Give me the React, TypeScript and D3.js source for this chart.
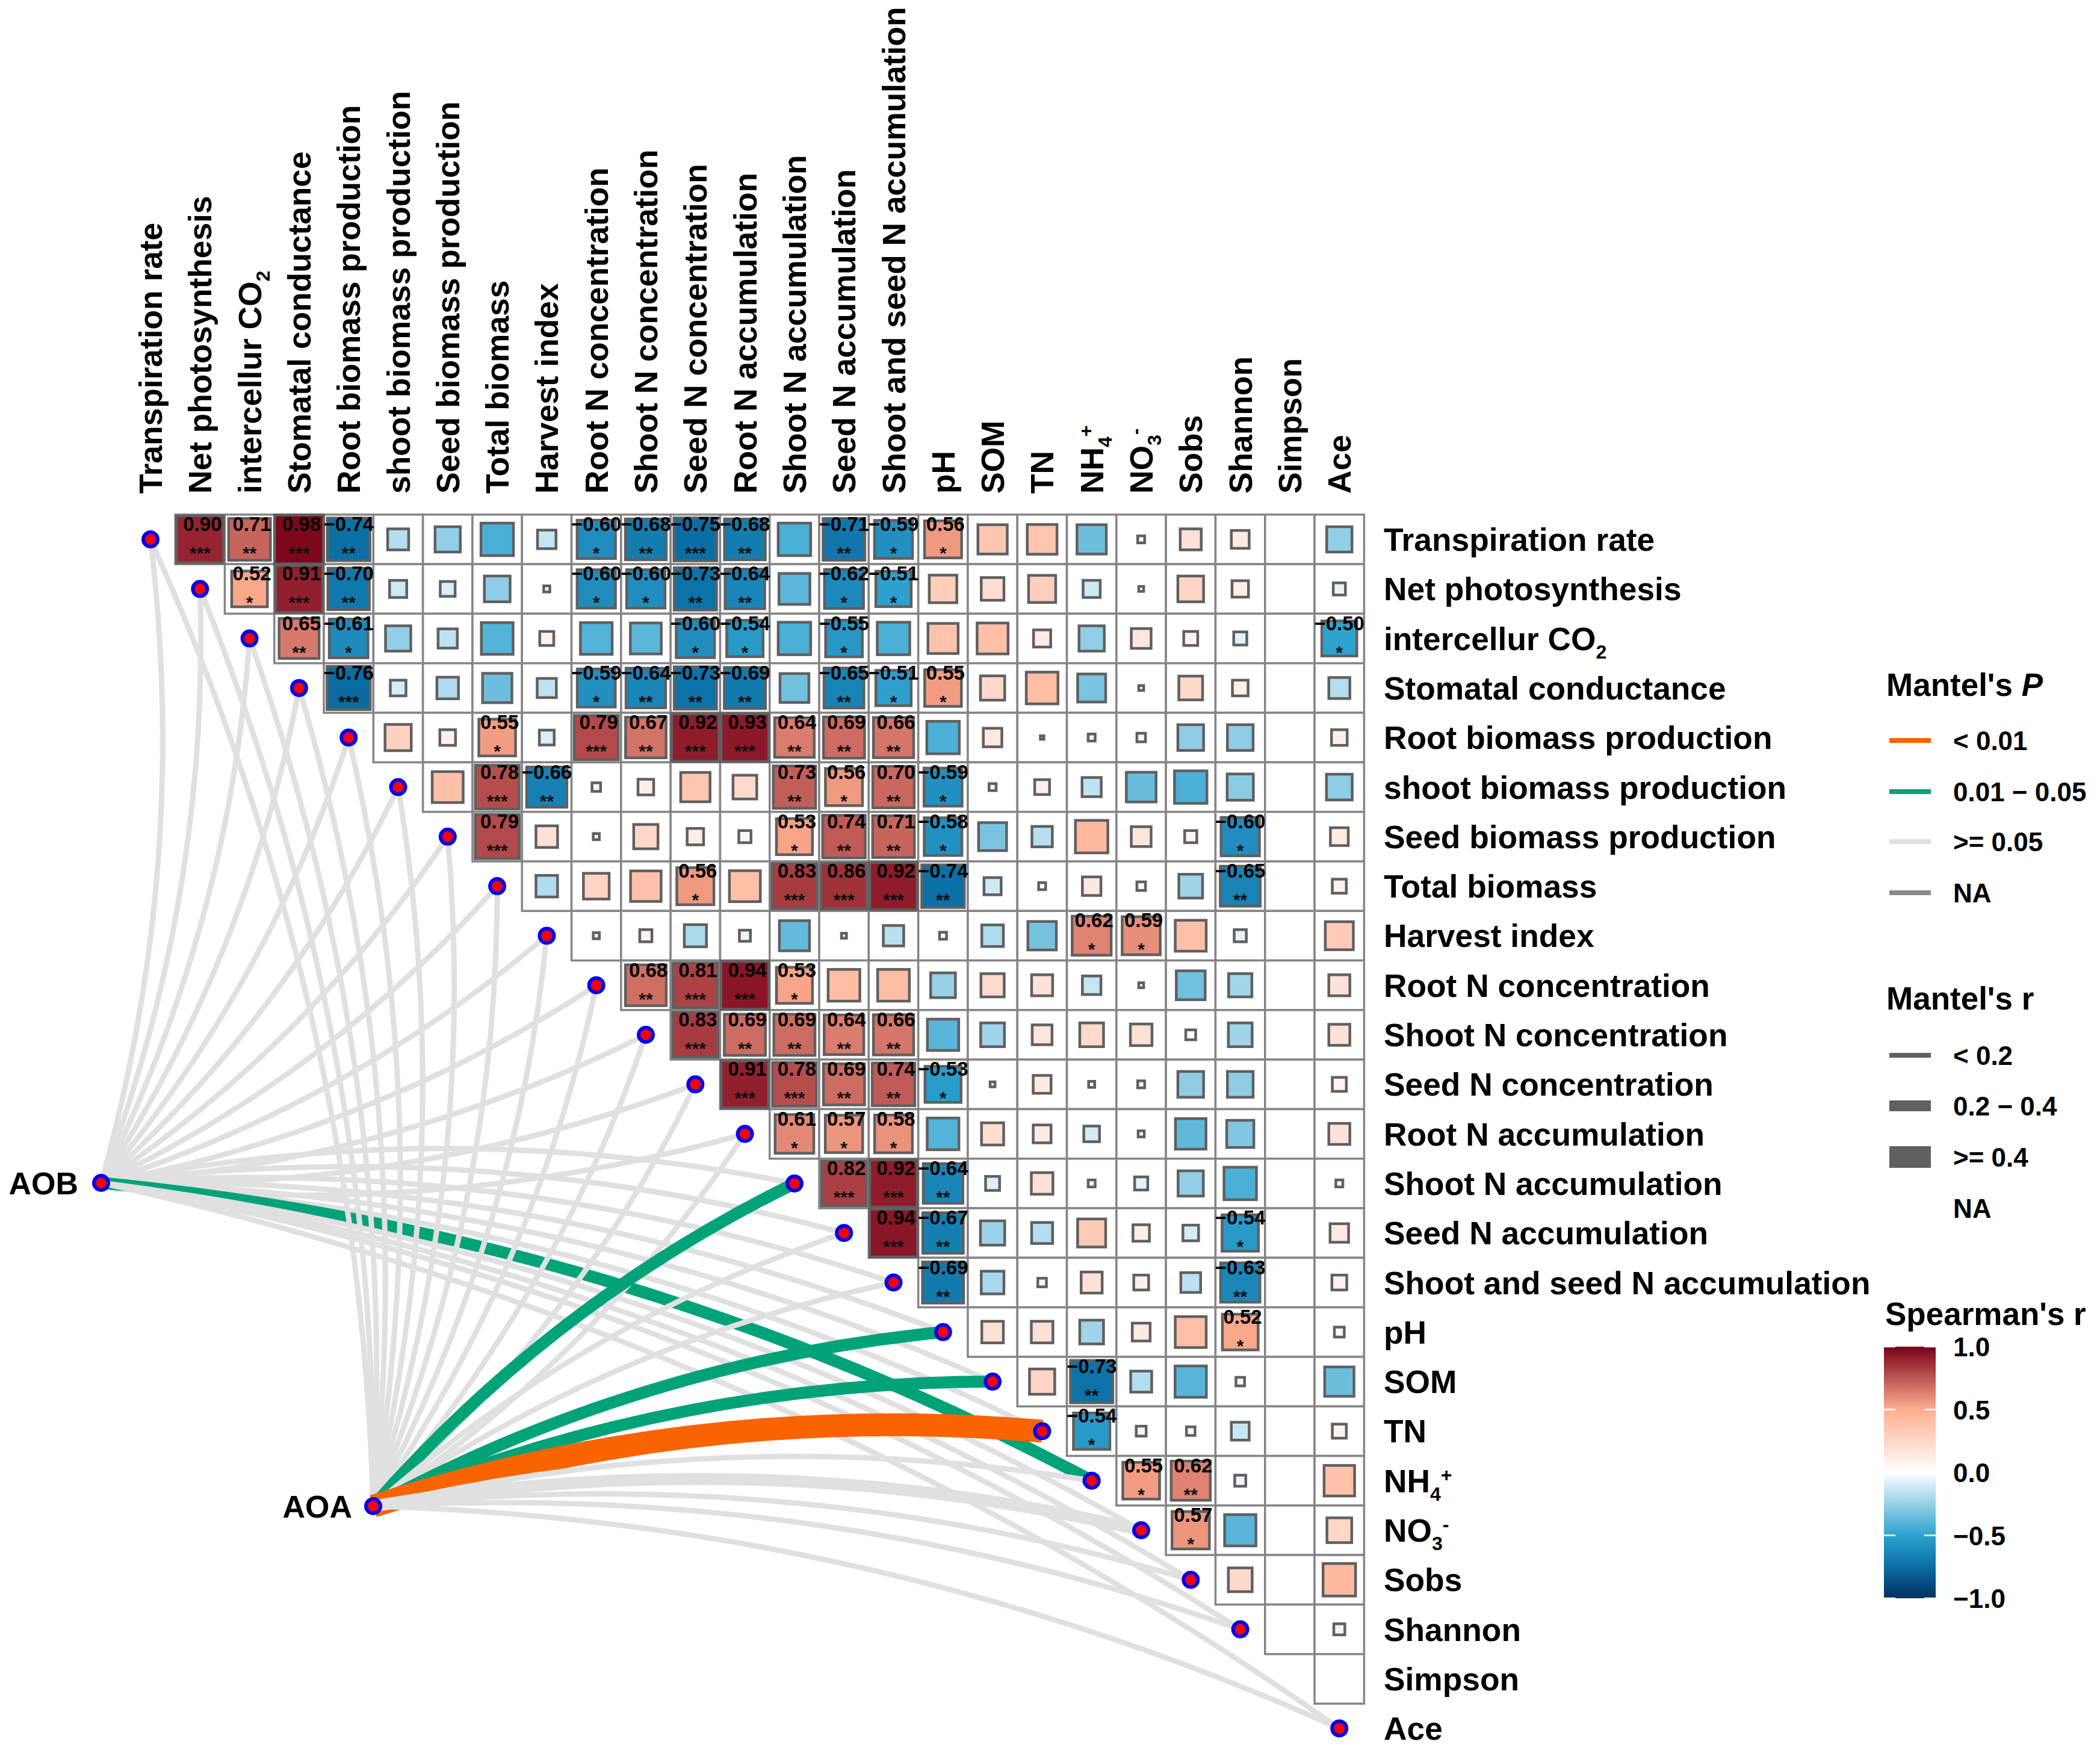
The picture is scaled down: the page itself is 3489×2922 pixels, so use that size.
import React from 'react';
import * as d3 from 'd3';

// variables, same order on both axes
const varNames = [
  'Transpiration rate', 'Net photosynthesis', 'intercellur CO2', 'Stomatal conductance',
  'Root biomass production', 'shoot biomass production', 'Seed biomass production', 'Total biomass',
  'Harvest index', 'Root N concentration', 'Shoot N concentration', 'Seed N concentration',
  'Root N accumulation', 'Shoot N accumulation', 'Seed N accumulation', 'Shoot and seed N accumulation',
  'pH', 'SOM', 'TN', 'NH4+', 'NO3-', 'Sobs', 'Shannon', 'Simpson', 'Ace',
];

// Spearman's r, upper triangle. Row i starts at column i + 1, null = NA
const corrRows: (number | null)[][] = [
  [0.9, 0.71, 0.98, -0.74, -0.18, -0.26, -0.43, -0.14, -0.6, -0.68, -0.75, -0.68, -0.43, -0.71, -0.59, 0.56, 0.35, 0.36, -0.35, 0.02, 0.18, 0.13, null, -0.26],
  [0.52, 0.91, -0.7, -0.12, -0.09, -0.27, -0.015, -0.6, -0.6, -0.73, -0.64, -0.39, -0.62, -0.51, 0.31, 0.21, 0.3, -0.12, 0.01, 0.27, 0.11, null, -0.06],
  [0.65, -0.61, -0.26, -0.15, -0.41, 0.08, -0.41, -0.39, -0.6, -0.54, -0.43, -0.55, -0.43, 0.37, 0.39, 0.12, -0.26, 0.16, 0.08, -0.07, null, -0.5],
  [-0.76, -0.1, -0.19, -0.35, -0.15, -0.59, -0.64, -0.73, -0.69, -0.34, -0.65, -0.51, 0.55, 0.24, 0.41, -0.32, 0.01, 0.23, 0.1, null, -0.18],
  [0.28, 0.1, 0.55, -0.09, 0.79, 0.67, 0.92, 0.93, 0.64, 0.69, 0.66, -0.43, 0.14, 0.005, -0.02, 0.03, -0.27, -0.27, null, 0.1],
  [0.39, 0.78, -0.66, 0.03, 0.1, 0.35, 0.23, 0.73, 0.56, 0.7, -0.59, 0.02, 0.09, -0.15, -0.36, -0.43, -0.28, null, -0.27],
  [0.79, 0.19, 0.015, 0.24, 0.11, 0.06, 0.53, 0.74, 0.71, -0.58, -0.32, -0.17, 0.43, 0.16, 0.06, -0.6, null, 0.13],
  [-0.19, 0.27, 0.38, 0.56, 0.39, 0.83, 0.86, 0.92, -0.74, -0.12, 0.02, 0.14, -0.03, -0.23, -0.65, null, 0.08],
  [0.015, 0.06, -0.2, -0.05, -0.37, 0.01, -0.17, 0.02, -0.19, -0.33, 0.62, 0.59, 0.39, -0.06, null, 0.32],
  [0.68, 0.81, 0.94, 0.53, 0.41, 0.41, -0.25, 0.22, 0.18, -0.14, 0.01, -0.34, -0.22, null, 0.18],
  [0.83, 0.69, 0.69, 0.64, 0.66, -0.4, -0.23, 0.16, 0.23, 0.19, 0.04, -0.23, null, 0.18],
  [0.91, 0.78, 0.69, 0.74, -0.53, 0.01, 0.13, -0.015, -0.02, -0.27, -0.27, null, 0.08],
  [0.61, 0.57, 0.58, -0.41, 0.2, 0.13, -0.1, 0.015, -0.38, -0.3, null, 0.18],
  [0.82, 0.92, -0.64, -0.08, 0.19, 0.02, -0.07, -0.26, -0.43, null, 0.02],
  [0.94, -0.67, -0.24, -0.18, 0.32, 0.11, -0.1, -0.54, null, 0.14],
  [-0.69, -0.21, 0.03, 0.18, 0.09, -0.16, -0.63, null, 0.09],
  [0.19, 0.19, -0.23, 0.13, 0.39, 0.52, null, 0.04],
  [0.26, -0.73, -0.18, -0.4, -0.03, null, -0.35],
  [-0.54, -0.04, 0.03, -0.13, null, 0.08],
  [0.55, 0.624, -0.05, null, 0.38],
  [0.57, -0.4, null, 0.25],
  [0.23, null, 0.43],
  [null, -0.05],
  [null],
];

// Mantel links, given as target variable index per class. All the rest are >= 0.05 and thin
const naTargets = [23];
const aobGreenTargets = [19];
const aoaGreenTargets = [13, 16, 17];
const aoaOrangeTargets = [18];
const aoaThickGreyTargets = [20];
// from this row on the curves bow upward, above it they bow the other way
const firstUpperBowTarget = 13;

const pLegendLabels = ['< 0.01', '0.01 \u2212 0.05', '>= 0.05', 'NA'];
const pLegendColors = ['#f96400', '#00a378', '#e0e0e0', '#8a8a8a'];
const rLegendLabels = ['< 0.2', '0.2 \u2212 0.4', '>= 0.4', 'NA'];
const rLegendWidths = [8, 18, 36, 0];
const linkWidths = [9, 20, 38];
const spearmanTicks = [1, 0.5, 0, -0.5, -1];

const WIDTH = 3489;
const HEIGHT = 2922;
const STEP = 82.3;
const FONT = '"Liberation Sans", Arial, sans-serif';
const CURVATURE = 0.1;

const n = varNames.length;
const x = d3.scaleLinear().domain([0, n - 1]).range([250, 250 + STEP * (n - 1)]);
const y = d3.scaleLinear().domain([0, n - 1]).range([896, 896 + STEP * (n - 1)]);

const fillDomain = [-1, -0.75, -0.5, 0, 0.5, 1];
const fill = d3
  .scaleLinear<string>()
  .domain(fillDomain)
  .range(['#03305f', '#0a6ea4', '#2ea2cf', '#ffffff', '#ffae8f', '#7a0018']);

const starsFor = (r: number) => {
  const a = Math.abs(r);
  if (a < 0.5) return '';
  if (a >= 0.75) return '***';
  if (a >= 0.622) return '**';
  return '*';
};

const fmt = (r: number) => r.toFixed(2).replace('-', '\u2212');

// bent link between two points, control point pushed off the chord
const linkPath = (x0: number, y0: number, t: number) => {
  const x1 = x(t);
  const y1 = y(t);
  const c = t >= firstUpperBowTarget ? CURVATURE : -CURVATURE;
  const mx = (x0 + x1) / 2;
  const my = (y0 + y1) / 2;
  const p = d3.path();
  p.moveTo(x0, y0);
  p.quadraticCurveTo(mx + (y1 - y0) * c, my - (x1 - x0) * c, x1, y1);
  return p.toString();
};

// labels with sub/superscripts
const Label = ({ name }: { name: string }) => {
  if (name === 'intercellur CO2')
    return (
      <>
        intercellur CO
        <tspan dy={14} fontSize={32}>2</tspan>
      </>
    );
  if (name === 'NH4+')
    return (
      <>
        NH
        <tspan dy={14} fontSize={32}>4</tspan>
        <tspan dy={-32} fontSize={32}>+</tspan>
      </>
    );
  if (name === 'NO3-')
    return (
      <>
        NO
        <tspan dy={14} fontSize={32}>3</tspan>
        <tspan dy={-32} fontSize={32}>-</tspan>
      </>
    );
  return <>{name}</>;
};

const App = () => {
  const aob = { px: 168, py: 1965 };
  const aoa = { px: 620, py: 2502 };
  const targets = d3.range(n).filter((t) => !naTargets.includes(t));

  const links: { d: string; color: string; width: number }[] = [];
  targets.forEach((t) => {
    const green = aobGreenTargets.includes(t);
    links.push({
      d: linkPath(aob.px, aob.py, t),
      color: green ? pLegendColors[1] : pLegendColors[2],
      width: green ? linkWidths[1] : linkWidths[0],
    });
  });
  targets.forEach((t) => {
    let color = pLegendColors[2];
    let width = linkWidths[0];
    if (aoaGreenTargets.includes(t)) {
      color = pLegendColors[1];
      width = linkWidths[1];
    } else if (aoaOrangeTargets.includes(t)) {
      color = pLegendColors[0];
      width = linkWidths[2];
    } else if (aoaThickGreyTargets.includes(t)) {
      width = linkWidths[1];
    }
    links.push({ d: linkPath(aoa.px, aoa.py, t), color, width });
  });

  const barY = d3.scaleLinear().domain([1, -1]).range([2237, 2655]);

  return (
    <svg
      width={WIDTH}
      height={HEIGHT}
      viewBox={`0 0 ${WIDTH} ${HEIGHT}`}
      style={{ position: 'absolute', left: 0, top: 0, background: '#fff' }}
      fontFamily={FONT}
      fontWeight="bold"
    >
      <defs>
        <clipPath id="rowLabelClip">
          <rect x={2280} y={0} width={826} height={HEIGHT} />
        </clipPath>
        <linearGradient id="spearmanBar" x1="0" x2="0" y1="0" y2="1">
          {[...fillDomain].reverse().map((v) => (
            <stop key={v} offset={(1 - v) / 2} stopColor={fill(v)} />
          ))}
        </linearGradient>
      </defs>

      {/* cell outlines first so neighbours share one border */}
      {corrRows.map((row, i) =>
        row.map((_, k) => (
          <rect
            key={`c${i}-${k}`}
            x={x(i + k + 1) - STEP / 2}
            y={y(i) - STEP / 2}
            width={STEP}
            height={STEP}
            fill="#fff"
            stroke="#858585"
            strokeWidth={3.5}
          />
        ))
      )}

      {corrRows.map((row, i) =>
        row.map((r, k) => {
          if (r === null) return null;
          const cx = x(i + k + 1);
          const cy = y(i);
          const side = Math.sqrt(Math.abs(r)) * STEP;
          const stars = starsFor(r);
          return (
            <g key={`s${i}-${k}`}>
              <rect
                x={cx - side / 2}
                y={cy - side / 2}
                width={side}
                height={side}
                fill={fill(r)}
                stroke="#606060"
                strokeWidth={4.5}
              />
              {stars && (
                <>
                  <text x={cx + (r > 0 ? 4 : 0)} y={cy - 14} fontSize={33} textAnchor="middle" fill="#000">
                    {fmt(r)}
                  </text>
                  <text x={cx} y={cy + 33} fontSize={30} textAnchor="middle" fill="#111">
                    {stars}
                  </text>
                </>
              )}
            </g>
          );
        })
      )}

      {/* links: AOB first, then AOA, in variable order */}
      {links.map((l, i) => (
        <path key={i} d={l.d} fill="none" stroke={l.color} strokeWidth={l.width} />
      ))}

      {targets.map((i) => (
        <circle key={i} cx={x(i)} cy={y(i)} r={12} fill="#fb0007" stroke="#0000f0" strokeWidth={6} />
      ))}
      <circle cx={aob.px} cy={aob.py} r={12} fill="#fb0007" stroke="#0000f0" strokeWidth={6} />
      <circle cx={aoa.px} cy={aoa.py} r={12} fill="#fb0007" stroke="#0000f0" strokeWidth={6} />
      <text x={130} y={aob.py + 19} fontSize={52} textAnchor="end">AOB</text>
      <text x={585} y={aoa.py + 19} fontSize={52} textAnchor="end">AOA</text>

      {/* axis labels */}
      {varNames.map((name, i) => (
        <text key={name} transform={`translate(${x(i) + 19},820) rotate(-90)`} fontSize={53.3} fill="#000">
          <Label name={name} />
        </text>
      ))}
      <g clipPath="url(#rowLabelClip)">
        {varNames.map((name, i) => (
          <text key={name} x={2299} y={y(i) + 19} fontSize={53.3} fill="#000">
            <Label name={name} />
          </text>
        ))}
      </g>

      {/* Mantel's P legend */}
      <text x={3134} y={1156} fontSize={53}>
        Mantel's <tspan fontStyle="italic">P</tspan>
      </text>
      {pLegendLabels.map((lab, i) => {
        const ky = [1230, 1315, 1398, 1483][i];
        return (
          <g key={lab}>
            <line x1={3139} x2={3208} y1={ky} y2={ky} stroke={pLegendColors[i]} strokeWidth={8} />
            <text x={3245} y={ky + 16} fontSize={44}>{lab}</text>
          </g>
        );
      })}

      {/* Mantel's r legend */}
      <text x={3134} y={1677} fontSize={53}>Mantel's r</text>
      {rLegendLabels.map((lab, i) => {
        const ky = [1753, 1837, 1922, 2007][i];
        return (
          <g key={lab}>
            {rLegendWidths[i] > 0 && (
              <line x1={3139} x2={3208} y1={ky} y2={ky} stroke="#606060" strokeWidth={rLegendWidths[i]} />
            )}
            <text x={3245} y={ky + 16} fontSize={44}>{lab}</text>
          </g>
        );
      })}

      {/* Spearman legend */}
      <text x={3132} y={2201} fontSize={53}>Spearman's r</text>
      <rect x={3130} y={barY(1)} width={86} height={barY(-1) - barY(1)} fill="url(#spearmanBar)" />
      {spearmanTicks.map((v) => (
        <g key={v}>
          <line x1={3130} x2={3149} y1={barY(v)} y2={barY(v)} stroke="#fff" strokeWidth={2.5} />
          <line x1={3197} x2={3216} y1={barY(v)} y2={barY(v)} stroke="#fff" strokeWidth={2.5} />
          <text x={3245} y={barY(v) + 16} fontSize={44}>{v.toFixed(1).replace('-', '\u2212')}</text>
        </g>
      ))}
    </svg>
  );
};

export default App;
